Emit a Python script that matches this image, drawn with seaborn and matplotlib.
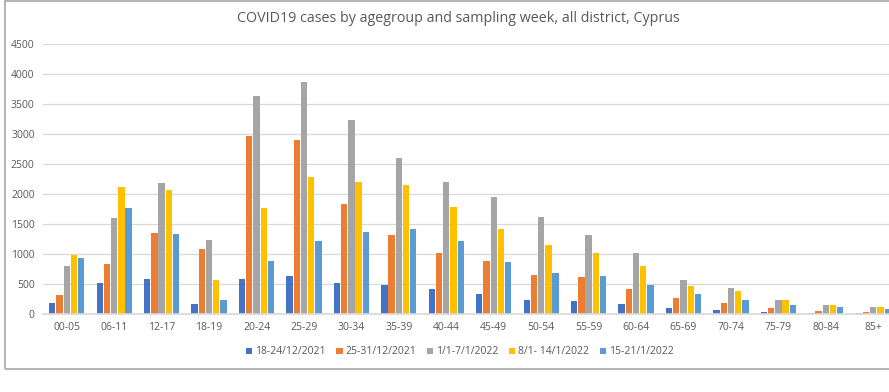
import pandas as pd
import seaborn as sns
import matplotlib.pyplot as plt
from matplotlib.patches import Rectangle

age_groups = ['00-05', '06-11', '12-17', '18-19', '20-24', '25-29', '30-34', '35-39', '40-44',
              '45-49', '50-54', '55-59', '60-64', '65-69', '70-74', '75-79', '80-84', '85+']
weeks = ['18-24/12/2021', '25-31/12/2021', '1/1-7/1/2022', '8/1- 14/1/2022', '15-21/1/2022']

wk_18_24_dec = [180, 510, 590, 170, 580, 630, 520, 490, 420, 340, 240, 210, 160, 95, 60, 33, 17, 11]
wk_25_31_dec = [310, 840, 1350, 1080, 2970, 2900, 1840, 1320, 1020, 880, 650, 620, 422, 261, 183, 100, 44, 33]
wk_1_7_jan = [800, 1600, 2190, 1230, 3630, 3870, 3240, 2600, 2200, 1950, 1610, 1310, 1011, 561, 433, 239, 156, 122]
wk_8_14_jan = [980, 2120, 2070, 560, 1770, 2290, 2200, 2150, 1790, 1410, 1150, 1020, 795, 467, 389, 228, 150, 122]
wk_15_21_jan = [940, 1760, 1330, 240, 890, 1220, 1360, 1410, 1210, 870, 690, 640, 478, 328, 239, 150, 111, 89]

colors = ['#4472C4', '#ED7D31', '#A5A5A5', '#FFC000', '#5B9BD5']

series = [wk_18_24_dec, wk_25_31_dec, wk_1_7_jan, wk_8_14_jan, wk_15_21_jan]
rows = []
for wk, vals in zip(weeks, series):
    for ag, v in zip(age_groups, vals):
        rows.append({'agegroup': ag, 'week': wk, 'cases': v})
df = pd.DataFrame(rows)

sns.set_theme(style="white")
plt.rcParams['font.family'] = ['Open Sans', 'DejaVu Sans']

fig = plt.figure(figsize=(8.89, 3.92), dpi=100)
ax = fig.add_axes([43 / 889, 78 / 392, 854 / 889, 270 / 392])

sns.barplot(data=df, x='agegroup', y='cases', hue='week', order=age_groups, hue_order=weeks,
            palette=colors, saturation=1, width=0.76, gap=0.12, linewidth=0,
            ax=ax, legend=True)

ax.set_ylim(0, 4500)
ax.set_yticks(range(0, 4501, 500))
ax.yaxis.grid(True, color='#D9D9D9', linewidth=0.9)
ax.set_axisbelow(True)
for s in ['top', 'right', 'left']:
    ax.spines[s].set_visible(False)
ax.spines['bottom'].set_color('#D9D9D9')
ax.set_xlabel('')
ax.set_ylabel('')
ax.tick_params(axis='both', length=0, labelsize=7.5, colors='#595959', pad=6)

fig.text(458 / 889, 1 - 19 / 392, 'COVID19 cases by agegroup and sampling week, all district, Cyprus',
         ha='center', va='center', fontsize=10.3, color='#595959')

ax.legend(loc='center', bbox_to_anchor=(460 / 889, 1 - 352 / 392), bbox_transform=fig.transFigure,
          ncol=5, frameon=False, fontsize=7.5, handlelength=0.6, handleheight=0.6,
          handletextpad=0.3, columnspacing=1.0, labelcolor='#595959')

fig.patches.append(Rectangle((5 / 889, 1 - 369 / 392), 1.0, 368 / 392, transform=fig.transFigure,
                             fill=False, edgecolor='#A6A6A6', linewidth=1.2))

fig.savefig('out.png', dpi=100)
